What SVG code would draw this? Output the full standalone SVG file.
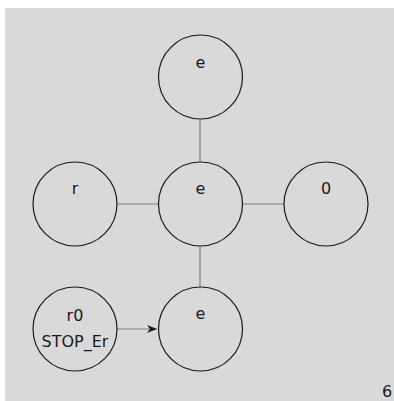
<svg xmlns="http://www.w3.org/2000/svg" width="394" height="401" viewBox="0 0 394 401">
  <style>
    .node { fill: none; stroke: #1a1a1a; stroke-width: 1.2; }
    .lbl { font-family: "DejaVu Sans", sans-serif; font-size: 16px; fill: #1a1a1a; text-anchor: middle; }
    .edge { stroke: #808080; stroke-width: 1.2; fill: none; }
  </style>
  <defs>
    <marker id="arrow" viewBox="0 0 10 10" refX="10" refY="5" markerWidth="10" markerHeight="10" markerUnits="userSpaceOnUse" orient="auto">
      <path d="M0,1 L10,5 L0,9 L3,5 Z" fill="#1a1a1a"/>
    </marker>
  </defs>
  <rect x="0" y="0" width="394" height="401" fill="#ffffff"/>
  <rect x="5" y="8" width="389" height="393" fill="#d9d9d9"/>
  <g id="edges">
    <line class="edge" x1="200" y1="119.5" x2="200" y2="162"/>
    <line class="edge" x1="200" y1="246" x2="200" y2="287"/>
    <line class="edge" x1="117" y1="204" x2="158.5" y2="204"/>
    <line class="edge" x1="242" y1="204" x2="284" y2="204"/>
    <line class="edge" x1="117" y1="329" x2="157" y2="329" marker-end="url(#arrow)"/>
  </g>
  <g id="n-top">
    <circle class="node" cx="200.5" cy="77" r="42"/>
    <text class="lbl" x="200.5" y="68">e</text>
  </g>
  <g id="n-center">
    <circle class="node" cx="200.5" cy="204" r="42"/>
    <text class="lbl" x="200.5" y="194">e</text>
  </g>
  <g id="n-left">
    <circle class="node" cx="75" cy="204" r="42"/>
    <text class="lbl" x="75" y="194">r</text>
  </g>
  <g id="n-right">
    <circle class="node" cx="326" cy="204" r="42"/>
    <text class="lbl" x="326" y="194">0</text>
  </g>
  <g id="n-bottom">
    <circle class="node" cx="200.5" cy="329" r="42"/>
    <text class="lbl" x="200.5" y="319">e</text>
  </g>
  <g id="n-start">
    <circle class="node" cx="75" cy="329" r="42"/>
    <text class="lbl" x="75" y="320.5">r0</text>
    <text class="lbl" x="75" y="347">STOP_Er</text>
  </g>
  <text class="lbl" x="387" y="396.5">6</text>
</svg>
